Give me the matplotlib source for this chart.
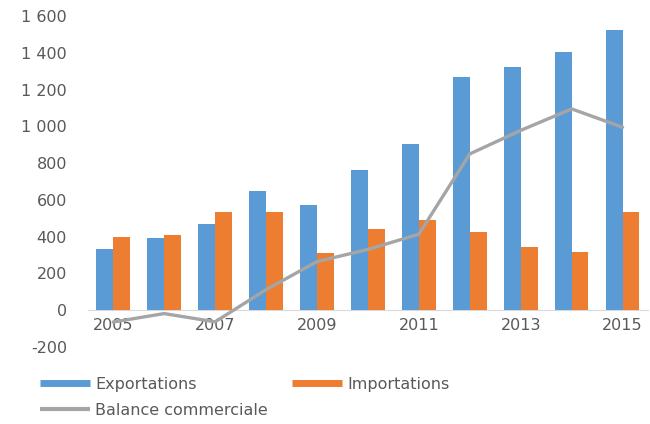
import matplotlib.pyplot as plt
from matplotlib.lines import Line2D
from matplotlib.ticker import FuncFormatter, MultipleLocator
import numpy as np

plt.rcParams['font.family'] = 'sans-serif'
plt.rcParams['font.sans-serif'] = ['DejaVu Sans']

# Trade figures per year
years = [2005, 2006, 2007, 2008, 2009, 2010, 2011, 2012, 2013, 2014, 2015]
exportations = [332, 392, 468, 646, 574, 765, 905, 1270, 1324, 1406, 1525]
importations = [397, 411, 532, 535, 310, 441, 492, 425, 346, 315, 532]
balance = [-65, -19, -64, 111, 264, 330, 413, 850, 978, 1095, 995]

blue = '#5B9BD5'
orange = '#ED7D31'
grey = '#A5A5A5'
text_col = '#595959'

fig = plt.figure(figsize=(6.5, 4.24), dpi=100)
ax = fig.add_axes([0.135, 0.182, 0.862, 0.78])

x = np.arange(len(years))
w = 0.33
ax.bar(x - w / 2, exportations, width=w, color=blue, zorder=2)
ax.bar(x + w / 2, importations, width=w, color=orange, zorder=2)
ax.plot(x, balance, color=grey, lw=2.4, zorder=3, solid_capstyle='round')

ax.set_xlim(-0.5, len(years) - 0.5)
ax.set_ylim(-200, 1600)
ax.yaxis.set_major_locator(MultipleLocator(200))
ax.yaxis.set_major_formatter(FuncFormatter(lambda v, p: f'{int(v):,}'.replace(',', ' ')))

# Category axis sits on the zero line
for s in ['top', 'right', 'left']:
    ax.spines[s].set_visible(False)
ax.spines['bottom'].set_position(('data', 0))
ax.spines['bottom'].set_color('#D9D9D9')
ax.spines['bottom'].set_zorder(1)

ax.set_xticks(x[::2])
ax.set_xticklabels([str(y) for y in years[::2]])
ax.tick_params(axis='both', length=0, labelsize=11.5, labelcolor=text_col)
ax.tick_params(axis='x', pad=6)
ax.tick_params(axis='y', pad=15)

handles = [
    Line2D([], [], color=blue, lw=5, solid_capstyle='butt'),
    Line2D([], [], color=grey, lw=3, solid_capstyle='butt'),
    Line2D([], [], color=orange, lw=5, solid_capstyle='butt'),
]
labels = ['Exportations', 'Balance commerciale', 'Importations']
leg = fig.legend(handles, labels, ncol=2, loc='upper left', bbox_to_anchor=(0.062, 0.112),
                 frameon=False, fontsize=11.5, handlelength=3.1, handletextpad=0.35,
                 columnspacing=1.5, labelspacing=0.7, borderaxespad=0, borderpad=0)
for t in leg.get_texts():
    t.set_color(text_col)

plt.savefig('out.png', dpi=100)
